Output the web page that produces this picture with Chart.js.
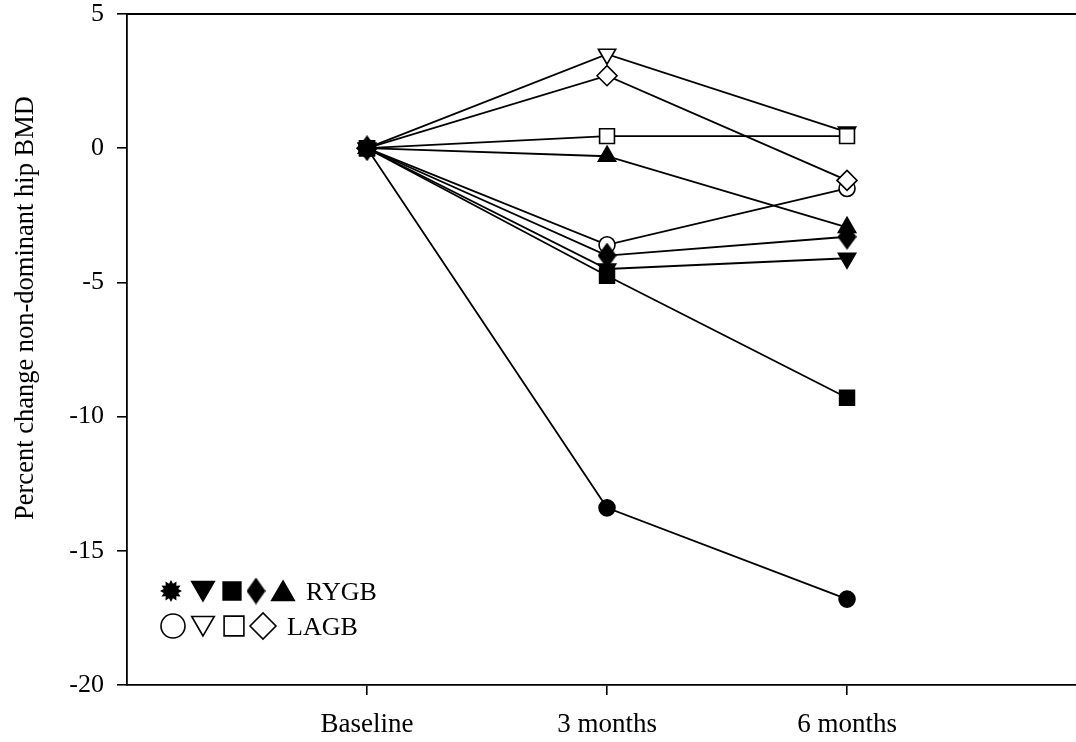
<!DOCTYPE html>
<html>
<head>
<meta charset="utf-8">
<script src="https://cdn.jsdelivr.net/npm/chart.js@4"></script>
<style>
  body { margin: 0; background: #fff; }
  canvas { display: block; }
</style>
</head>
<body>
<canvas id="bmdChart" width="1076" height="742"></canvas>
<script>
// Time points and their labels
const categories = ['Baseline', '3 months', '6 months'];
const timePoints = [0, 1, 2];
const yTicks = [5, 0, -5, -10, -15, -20];
const yTitle = 'Percent change non-dominant hip BMD';

// RYGB patients (filled symbols)
const rygbCircle = [0, -13.4, -16.8];
const rygbSquare = [0, -4.75, -9.3];
const rygbDownTri = [0, -4.5, -4.1];
const rygbDiamond = [0, -4.0, -3.3];
const rygbUpTri = [0, -0.3, -2.95];

// LAGB patients (open symbols)
const lagbSquare = [0, 0.45, 0.45];
const lagbDownTri = [0, 3.5, 0.6];
const lagbDiamond = [0, 2.7, -1.2];
const lagbCircle = [0, -3.6, -1.5];

const serif = '"Liberation Serif", "Times New Roman", serif';

// tall filled diamond used as a point style
function tallDiamond(w, h) {
    const c = document.createElement('canvas');
    c.width = w;
    c.height = h;
    const g = c.getContext('2d');
    g.fillStyle = '#000';
    g.beginPath();
    g.moveTo(w / 2, 0);
    g.lineTo(w, h / 2);
    g.lineTo(w / 2, h);
    g.lineTo(0, h / 2);
    g.closePath();
    g.fill();
    return c;
}
const plotDiamond = tallDiamond(19, 26);
const legendDiamond = tallDiamond(19, 27);

function makeSet(values, style, radius, filled, rotation) {
    return {
        data: timePoints.map((x, i) => ({ x: x, y: values[i] })),
        borderColor: '#000',
        borderWidth: 1.8,
        pointStyle: style,
        pointRadius: radius,
        pointRotation: rotation || 0,
        pointBorderColor: '#000',
        pointBorderWidth: 1.6,
        pointBackgroundColor: filled ? '#000' : '#fff',
        tension: 0,
        fill: false
    };
}

// top frame line and the y title (sits a bit above the axis middle)
const frameAndTitle = {
    id: 'frameAndTitle',
    afterDraw(chart) {
        const { ctx, chartArea } = chart;
        ctx.save();
        ctx.strokeStyle = '#000';
        ctx.lineWidth = 1.8;
        ctx.beginPath();
        ctx.moveTo(chartArea.left, chartArea.top);
        ctx.lineTo(chartArea.right, chartArea.top);
        ctx.stroke();

        ctx.translate(26, 308);
        ctx.rotate(-Math.PI / 2);
        ctx.fillStyle = '#000';
        ctx.font = '26.5px ' + serif;
        ctx.textAlign = 'center';
        ctx.textBaseline = 'middle';
        ctx.fillText(yTitle, 0, 0);
        ctx.restore();
    }
};

// Legend drawn inside the plot, lower left
const symbolLegend = {
    id: 'symbolLegend',
    afterDatasetsDraw(chart) {
        const ctx = chart.ctx;
        const draw = (style, r, rot, x, y) =>
            Chart.helpers.drawPoint(ctx, { pointStyle: style, radius: r, rotation: rot, borderWidth: 1.6 }, x, y);
        ctx.save();
        ctx.strokeStyle = '#000';
        ctx.lineWidth = 1.6;

        // row 1: filled
        let y = 591;
        ctx.fillStyle = '#000';
        ctx.beginPath();
        for (let i = 0; i < 24; i++) {
            const r = i % 2 === 0 ? 11 : 7.5;
            const a = i * Math.PI / 12;
            ctx.lineTo(171 + r * Math.sin(a), y - r * Math.cos(a));
        }
        ctx.closePath();
        ctx.fill();
        draw('triangle', 13, 180, 203, y - 3);
        draw('rect', 12.5, 0, 232, y);
        ctx.drawImage(legendDiamond, 256 - 9.5, y - 13.5);
        draw('triangle', 13, 0, 283, y + 3);

        // row 2: open
        y = 626;
        ctx.fillStyle = '#fff';
        draw('circle', 12, 0, 173, y);
        draw('triangle', 13, 180, 203, y - 3);
        draw('rect', 14, 0, 234, y);
        draw('rectRot', 13, 0, 263, y);

        ctx.fillStyle = '#000';
        ctx.font = '26px ' + serif;
        ctx.textBaseline = 'middle';
        ctx.textAlign = 'left';
        ctx.fillText('RYGB', 306, 593);
        ctx.fillText('LAGB', 287, 628);
        ctx.restore();
    }
};

const ctx = document.getElementById('bmdChart').getContext('2d');
new Chart(ctx, {
    type: 'line',
    data: {
        datasets: [
            makeSet(rygbCircle, 'circle', 8, true),
            makeSet(rygbSquare, 'rect', 10.5, true),
            makeSet(rygbDownTri, 'triangle', 10, true, 180),
            makeSet(rygbDiamond, plotDiamond, 10, true),
            makeSet(rygbUpTri, 'triangle', 10, true),
            makeSet(lagbSquare, 'rect', 10.5, false),
            makeSet(lagbDownTri, 'triangle', 10, false, 180),
            makeSet(lagbDiamond, 'rectRot', 10, false),
            makeSet(lagbCircle, 'circle', 8, false)
        ]
    },
    options: {
        responsive: false,
        devicePixelRatio: 1,
        animation: false,
        layout: { padding: { top: 14, left: 0, right: 0, bottom: 0 }, autoPadding: false },
        plugins: { legend: { display: false }, tooltip: { enabled: false } },
        scales: {
            x: {
                type: 'linear',
                position: 'bottom',
                min: -1,
                max: 2.954,
                afterBuildTicks: s => { s.ticks = timePoints.map(v => ({ value: v })); },
                afterFit: s => {
                    s.height = 57;
                    s.paddingLeft = 0;
                    s.paddingRight = 0;
                },
                ticks: {
                    callback: v => categories[v],
                    color: '#000',
                    font: { family: serif, size: 27 },
                    padding: 14,
                    autoSkip: false,
                    maxRotation: 0
                },
                grid: { drawOnChartArea: false, drawTicks: true, tickLength: 10, color: '#000', lineWidth: 1.6 },
                border: { display: true, color: '#000', width: 1.8 }
            },
            y: {
                min: -20,
                max: 5,
                afterBuildTicks: s => { s.ticks = yTicks.map(v => ({ value: v })); },
                afterFit: s => {
                    s.width = 127;
                    s.paddingTop = 0;
                    s.paddingBottom = 0;
                },
                ticks: {
                    color: '#000',
                    font: { family: serif, size: 26 },
                    padding: 13
                },
                grid: { drawOnChartArea: false, drawTicks: true, tickLength: 10, color: '#000', lineWidth: 1.6 },
                border: { display: true, color: '#000', width: 1.8 }
            }
        }
    },
    plugins: [frameAndTitle, symbolLegend]
});
</script>
</body>
</html>
